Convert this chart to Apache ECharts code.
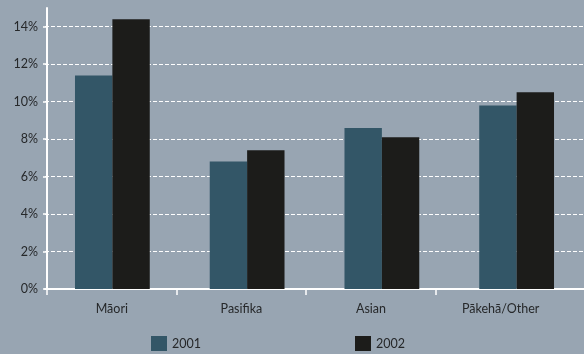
<!DOCTYPE html>
<html>
<head>
<meta charset="utf-8">
<script src="https://cdn.jsdelivr.net/npm/echarts@6/dist/echarts.min.js"></script>
<style>
  html, body { margin: 0; padding: 0; background: #98a5b2; }
  #chart { width: 584px; height: 354px; }
</style>
</head>
<body>
<div id="chart"></div>
<script>
// Ethnic groups along the x axis
const categories = ['Māori', 'Pasifika', 'Asian', 'Pākehā/Other'];
// Rates (%) for each year
const values2001 = [11.4, 6.8, 8.6, 9.8];
const values2002 = [14.4, 7.4, 8.1, 10.5];
const seriesNames = ['2001', '2002'];
const yTicks = [0, 2, 4, 6, 8, 10, 12, 14];
// Category separators drawn under the axis (group boundaries)
const xTicks = [0, 1, 2, 3];

const textColor = '#26282a';
const font = 'Lato';
const white = '#ffffff';

// Plot area for the bars, and a slightly narrower frame for axis text and ticks
const barGrid = { left: 45, right: -3, top: 8, bottom: 65 };
const axisGrid = { left: 47, width: 518.4, top: 8, bottom: 65 };

const chart = echarts.init(document.getElementById('chart'), null, { renderer: 'canvas' });
chart.setOption({
  backgroundColor: '#98a5b2',
  animation: false,
  textStyle: { fontFamily: font },
  grid: [barGrid, axisGrid, axisGrid],
  legend: {
    data: seriesNames,
    left: 151,
    top: 336,
    padding: 0,
    itemWidth: 16,
    itemHeight: 15,
    itemGap: 154,
    icon: 'rect',
    textStyle: { color: textColor, fontSize: 12.5, fontFamily: font }
  },
  xAxis: [
    {
      // bar axis: baseline only
      type: 'category',
      gridIndex: 0,
      data: categories,
      axisLine: { lineStyle: { color: white, width: 2 } },
      axisTick: { show: false },
      axisLabel: { show: false }
    },
    {
      // category names
      type: 'category',
      gridIndex: 1,
      data: categories,
      axisLine: { show: false },
      axisTick: { show: false },
      axisLabel: { color: textColor, fontSize: 12.5, margin: 13, fontFamily: font }
    },
    {
      // group separator ticks
      type: 'value',
      gridIndex: 2,
      min: 0,
      max: 4,
      interval: 1,
      axisLine: { show: false },
      axisTick: { show: true, length: 6, customValues: xTicks, lineStyle: { color: white, width: 1.5 } },
      axisLabel: { show: false },
      splitLine: { show: false }
    }
  ],
  yAxis: [
    {
      type: 'value',
      gridIndex: 0,
      min: 0,
      max: 15,
      interval: 2,
      axisLine: { show: false },
      axisTick: { show: false },
      axisLabel: { show: false },
      splitLine: {
        show: true,
        showMinLine: false,
        showMaxLine: false,
        lineStyle: { color: white, type: [4, 2], width: 1 }
      }
    },
    {
      type: 'value',
      gridIndex: 1,
      min: 0,
      max: 15,
      interval: 2,
      axisLine: { show: true, lineStyle: { color: white, width: 2 } },
      axisTick: { show: true, length: 4, customValues: yTicks, lineStyle: { color: white, width: 1.5 } },
      axisLabel: {
        color: textColor, fontSize: 12.5, margin: 9, fontFamily: font,
        showMaxLabel: false,
        formatter: v => (v % 2 === 0 ? v + '%' : '')
      },
      splitLine: { show: false }
    },
    {
      type: 'value',
      gridIndex: 2,
      min: 0,
      max: 15,
      show: false
    }
  ],
  series: [
    {
      name: seriesNames[0],
      type: 'bar',
      xAxisIndex: 0,
      yAxisIndex: 0,
      data: values2001,
      barGap: '0%',
      barCategoryGap: '44.5%',
      itemStyle: { color: '#335667' }
    },
    {
      name: seriesNames[1],
      type: 'bar',
      xAxisIndex: 0,
      yAxisIndex: 0,
      data: values2002,
      itemStyle: { color: '#1c1c1a' }
    }
  ]
});
</script>
</body>
</html>
